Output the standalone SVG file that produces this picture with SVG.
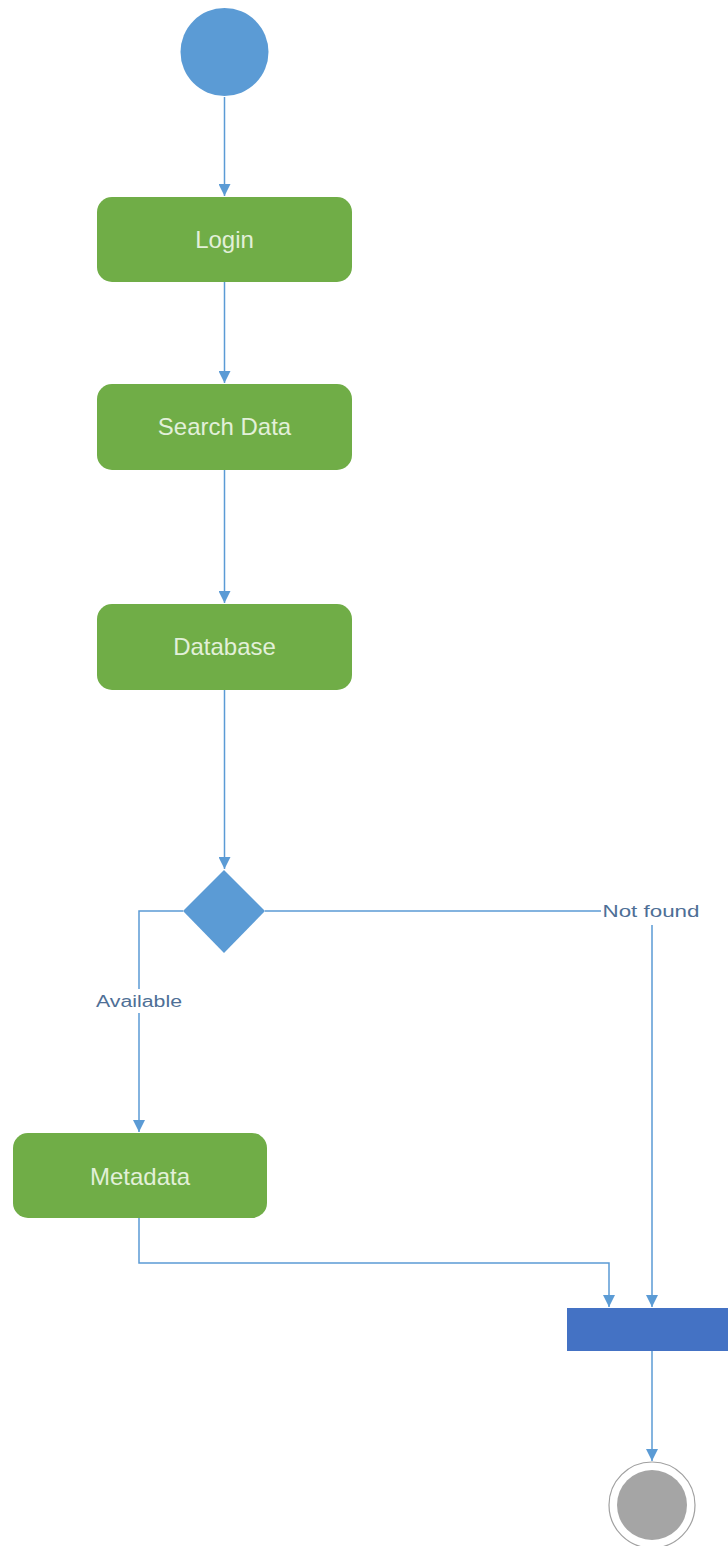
<svg xmlns="http://www.w3.org/2000/svg" width="728" height="1546" viewBox="0 0 728 1546">
<style>
.act{fill:#70ad47;}
.atxt{font-family:"Liberation Sans",Arial,sans-serif;font-size:24px;fill:#e2f0d9;text-anchor:middle;}
.con{fill:none;stroke:#5b9bd5;stroke-width:1.5;}
.lbl{font-family:"Liberation Sans",Arial,sans-serif;font-size:16px;fill:#4e6f96;text-anchor:middle;}
</style>
<defs>
<marker id="arr" markerUnits="userSpaceOnUse" markerWidth="12" markerHeight="12" refX="12" refY="6" orient="auto">
<path d="M0,0 L12,6 L0,12 z" fill="#5b9bd5"/>
</marker>
</defs>
<rect width="728" height="1546" fill="#ffffff"/>
<g id="connectors">
<path class="con" d="M224.5,97 V196" marker-end="url(#arr)"/>
<path class="con" d="M224.5,282 V383" marker-end="url(#arr)"/>
<path class="con" d="M224.5,470 V603" marker-end="url(#arr)"/>
<path class="con" d="M224.5,690 V869" marker-end="url(#arr)"/>
<path class="con" d="M183,911 H139 V1132" marker-end="url(#arr)"/>
<path class="con" d="M265,911 H652 V1307" marker-end="url(#arr)"/>
<path class="con" d="M139,1218 V1263 H609 V1307" marker-end="url(#arr)"/>
<path class="con" d="M652,1351 V1461" marker-end="url(#arr)"/>
</g>
<g id="label-available">
<rect x="93" y="989" width="92" height="24" fill="#ffffff"/>
<text class="lbl" x="139" y="1007" textLength="86" lengthAdjust="spacingAndGlyphs">Available</text>
</g>
<g id="label-notfound">
<rect x="601" y="899" width="102" height="26" fill="#ffffff"/>
<text class="lbl" x="651" y="917" textLength="97" lengthAdjust="spacingAndGlyphs">Not found</text>
</g>
<g id="start">
<circle cx="224.5" cy="52" r="44" fill="#5b9bd5"/>
</g>
<g id="login">
<rect class="act" x="97" y="197" width="255" height="85" rx="15"/>
<text class="atxt" x="224.5" y="248">Login</text>
</g>
<g id="search">
<rect class="act" x="97" y="384" width="255" height="86" rx="15"/>
<text class="atxt" x="224.5" y="435">Search Data</text>
</g>
<g id="database">
<rect class="act" x="97" y="604" width="255" height="86" rx="15"/>
<text class="atxt" x="224.5" y="655">Database</text>
</g>
<g id="decision">
<polygon points="224,870 265,911 224,953 183,911" fill="#5b9bd5"/>
</g>
<g id="metadata">
<rect class="act" x="13" y="1133" width="254" height="85" rx="15"/>
<text class="atxt" x="140" y="1185">Metadata</text>
</g>
<g id="join">
<rect x="567" y="1308" width="161" height="43" fill="#4472c4"/>
</g>
<g id="end">
<circle cx="652" cy="1505" r="43" fill="#ffffff" stroke="#a0a0a0" stroke-width="1.2"/>
<circle cx="652" cy="1505" r="35" fill="#a5a5a5"/>
</g>
</svg>
